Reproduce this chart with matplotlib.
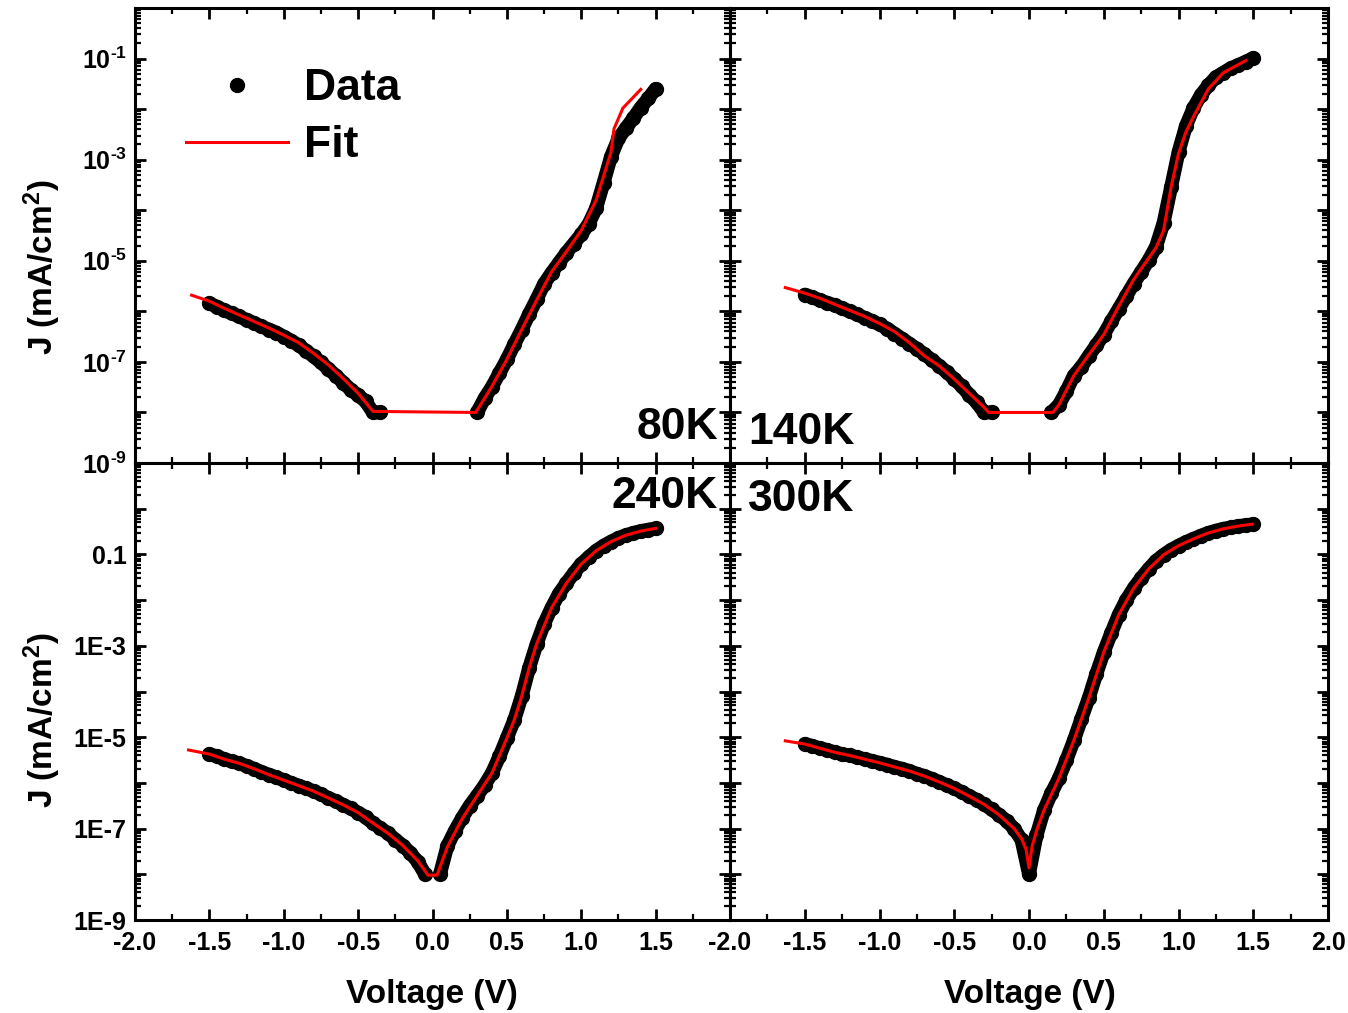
import numpy as np
import matplotlib
matplotlib.use("Agg")
import matplotlib.pyplot as plt
from matplotlib.lines import Line2D
from matplotlib.ticker import FixedLocator, LogLocator, FuncFormatter, MultipleLocator, NullFormatter

plt.rcParams['font.family'] = ['Liberation Sans', 'DejaVu Sans']
plt.rcParams['font.weight'] = 'bold'
plt.rcParams['mathtext.fontset'] = 'custom'
plt.rcParams['mathtext.rm'] = 'Liberation Sans:bold'
plt.rcParams['mathtext.bf'] = 'Liberation Sans:bold'
plt.rcParams['mathtext.it'] = 'Liberation Sans:bold:italic'
plt.rcParams['mathtext.default'] = 'bf'

# ---- measured J-V curves (log10 of J in mA/cm^2), voltage sweep -1.5 V .. 1.5 V, 0.05 V step
voltage = np.linspace(-1.5, 1.5, 61)
N = None  # no measurable current

logj_80K = [-5.84, -5.91, -5.98, -6.04, -6.10, -6.17, -6.23, -6.30, -6.36, -6.42,
            -6.50, -6.58, -6.67, -6.78, -6.89, -7.01, -7.14, -7.27, -7.41, -7.55,
            -7.66, -7.78, -8.00, -8.00, N, N, N, N, N, N,
            N, N, N, N, N, N, -8.00, -7.72, -7.49, -7.22,
            -6.95, -6.65, -6.36, -6.05, -5.76, -5.46, -5.24, -5.04, -4.84, -4.66,
            -4.48, -4.27, -3.96, -3.46, -2.94, -2.58, -2.38, -2.18, -1.97, -1.79,
            -1.60]

logj_140K = [-5.67, -5.72, -5.78, -5.83, -5.88, -5.94, -6.00, -6.06, -6.13, -6.19,
             -6.26, -6.34, -6.44, -6.54, -6.64, -6.74, -6.85, -6.96, -7.08, -7.20,
             -7.34, -7.48, -7.65, -7.80, -8.00, -8.00, N, N, N, N,
             N, N, N, -8.00, -7.85, -7.58, -7.27, -7.10, -6.88, -6.67,
             -6.46, -6.20, -5.95, -5.70, -5.45, -5.22, -4.99, -4.72, -4.25, -3.55,
             -2.85, -2.33, -1.98, -1.72, -1.53, -1.37, -1.28, -1.19, -1.13, -1.06,
             -0.99]

logj_240K = [-5.37, -5.42, -5.48, -5.53, -5.57, -5.63, -5.69, -5.76, -5.82, -5.88,
             -5.94, -6.00, -6.06, -6.12, -6.18, -6.25, -6.33, -6.40, -6.48, -6.56,
             -6.65, -6.75, -6.88, -6.99, -7.10, -7.24, -7.37, -7.53, -7.72, -8.00,
             N, -8.00, -7.38, -7.05, -6.76, -6.50, -6.28, -6.05, -5.78, -5.42,
             -5.02, -4.62, -4.10, -3.48, -2.96, -2.52, -2.17, -1.86, -1.63, -1.41,
             -1.21, -1.06, -0.92, -0.81, -0.72, -0.64, -0.58, -0.53, -0.49, -0.46,
             -0.43]

logj_300K = [-5.15, -5.19, -5.24, -5.28, -5.33, -5.37, -5.40, -5.44, -5.48, -5.52,
             -5.56, -5.60, -5.65, -5.69, -5.74, -5.80, -5.85, -5.91, -5.98, -6.05,
             -6.12, -6.20, -6.29, -6.37, -6.47, -6.58, -6.70, -6.83, -7.00, -7.25,
             -8.00, -7.15, -6.60, -6.22, -5.90, -5.50, -5.07, -4.60, -4.14, -3.62,
             -3.14, -2.72, -2.32, -2.00, -1.74, -1.52, -1.32, -1.14, -1.01, -0.90,
             -0.81, -0.73, -0.66, -0.59, -0.53, -0.48, -0.44, -0.41, -0.38, -0.36,
             -0.34]

# ---- model fits
fit_v_80K = [-1.62, -1.5, -1.4, -1.3, -1.2, -1.1, -1.0, -0.9, -0.8, -0.7, -0.6, -0.5, -0.4,
             0.29, 0.35, 0.4, 0.5, 0.6, 0.7, 0.8, 0.9, 1.0, 1.1, 1.2, 1.22, 1.28, 1.40]
fit_logj_80K = [-5.68, -5.80, -5.94, -6.07, -6.20, -6.33, -6.47, -6.62, -6.83, -7.06, -7.33, -7.62, -7.98,
                -8.00, -7.72, -7.48, -6.95, -6.36, -5.78, -5.22, -4.82, -4.40, -3.80, -2.85, -2.39, -1.98, -1.61]

fit_v_140K = [-1.63, -1.5, -1.4, -1.3, -1.2, -1.1, -1.0, -0.9, -0.8, -0.7, -0.6, -0.5, -0.4, -0.3, -0.27,
              0.16, 0.2, 0.3, 0.4, 0.5, 0.6, 0.7, 0.8, 0.85, 0.9, 0.95, 1.0, 1.05, 1.1, 1.2, 1.3, 1.45]
fit_logj_140K = [-5.53, -5.64, -5.74, -5.86, -5.98, -6.10, -6.24, -6.40, -6.62, -6.88, -7.08, -7.34, -7.62, -7.90, -8.00,
                 -8.00, -7.85, -7.27, -6.86, -6.46, -5.90, -5.37, -4.95, -4.74, -4.40, -3.55, -2.88, -2.45, -2.15, -1.60, -1.28, -1.04]

fit_v_240K = [-1.64, -1.5, -1.4, -1.3, -1.2, -1.1, -1.0, -0.9, -0.8, -0.7, -0.6, -0.5, -0.4, -0.3, -0.2, -0.1,
              -0.03, 0.03, 0.1, 0.2, 0.3, 0.4, 0.5, 0.55, 0.6, 0.65, 0.7, 0.8, 0.9, 1.0, 1.1, 1.2, 1.3, 1.4, 1.5]
fit_logj_240K = [-5.28, -5.37, -5.48, -5.57, -5.69, -5.82, -5.94, -6.06, -6.18, -6.33, -6.48, -6.65, -6.88, -7.10, -7.37, -7.70,
                 -8.02, -8.02, -7.40, -6.78, -6.28, -5.78, -5.02, -4.62, -4.10, -3.48, -2.96, -2.17, -1.63, -1.21, -0.92, -0.72, -0.58, -0.49, -0.43]

fit_v_300K = [-1.63, -1.5, -1.4, -1.3, -1.2, -1.1, -1.0, -0.9, -0.8, -0.7, -0.6, -0.5, -0.4, -0.3, -0.2, -0.1,
              -0.05, -0.02, 0.0, 0.02, 0.05, 0.1, 0.2, 0.3, 0.4, 0.5, 0.6, 0.7, 0.8, 0.9, 1.0, 1.1, 1.2, 1.3, 1.4, 1.49]
fit_logj_300K = [-5.08, -5.15, -5.24, -5.33, -5.40, -5.48, -5.56, -5.65, -5.74, -5.85, -5.98, -6.12, -6.29, -6.47, -6.70, -7.00,
                 -7.22, -7.45, -7.86, -7.40, -7.05, -6.60, -5.90, -5.07, -4.14, -3.14, -2.32, -1.74, -1.32, -1.01, -0.81, -0.66, -0.53, -0.44, -0.38, -0.34]

temperatures = ['80K', '140K', '240K', '300K']
data_sets = [logj_80K, logj_140K, logj_240K, logj_300K]
fit_sets = [(fit_v_80K, fit_logj_80K), (fit_v_140K, fit_logj_140K),
            (fit_v_240K, fit_logj_240K), (fit_v_300K, fit_logj_300K)]

x_ticks = [-2.0, -1.5, -1.0, -0.5, 0.0, 0.5, 1.0, 1.5, 2.0]

W, H = 1348, 1013
fig = plt.figure(figsize=(W / 100, H / 100), dpi=100)


def frac(x0, y0, x1, y1):
    return [x0 / W, 1 - y1 / H, (x1 - x0) / W, (y1 - y0) / H]


axes = [fig.add_axes(frac(135, 8, 730, 463)),
        fig.add_axes(frac(730, 8, 1328, 463)),
        fig.add_axes(frac(135, 463, 730, 920)),
        fig.add_axes(frac(730, 463, 1328, 920))]


def top_fmt(v, pos):
    e = int(round(np.log10(v)))
    if e % 2 == 0:
        return ''
    return r'$\mathbf{10^{\text{-}%d}}$' % (-e)


def bottom_fmt(v, pos):
    e = int(round(np.log10(v)))
    if e % 2 == 0 or e > -1:
        return ''
    return '0.1' if e == -1 else '1E%d' % e


def volt_fmt_left(v, pos):
    return '' if v > 1.9 else '%.1f' % v


def volt_fmt_right(v, pos):
    return '%.1f' % v


for i, ax in enumerate(axes):
    logj = np.array([np.nan if v is None else v for v in data_sets[i]], dtype=float)
    j = 10.0 ** logj
    ax.plot(voltage, j, '-', color='black', lw=10, solid_capstyle='round',
            solid_joinstyle='round', zorder=2)
    ax.plot(voltage, j, 'o', color='black', ms=10, zorder=2)
    fv, fl = fit_sets[i]
    ax.plot(fv, 10.0 ** np.array(fl), '-', color='#ff0000', lw=2.2, zorder=3)

    ax.set_yscale('log')
    ax.set_xlim(-2.0, 2.0)
    top_row = i < 2
    if top_row:
        ax.set_ylim(1e-9, 1e0)
        exps = range(-9, 1)
    else:
        ax.set_ylim(1e-9, 1e1)
        exps = range(-9, 2)
    ax.yaxis.set_major_locator(FixedLocator([10.0 ** e for e in exps]))
    ax.yaxis.set_minor_locator(LogLocator(base=10, subs=np.arange(2, 10), numticks=30))
    ax.yaxis.set_minor_formatter(NullFormatter())
    ax.xaxis.set_major_locator(FixedLocator(x_ticks))
    ax.xaxis.set_minor_locator(MultipleLocator(0.25))

    if i == 0:
        ax.yaxis.set_major_formatter(FuncFormatter(top_fmt))
    elif i == 2:
        ax.yaxis.set_major_formatter(FuncFormatter(bottom_fmt))
    else:
        ax.yaxis.set_major_formatter(NullFormatter())
    if top_row:
        ax.xaxis.set_major_formatter(NullFormatter())
    elif i == 2:
        ax.xaxis.set_major_formatter(FuncFormatter(volt_fmt_left))
    else:
        ax.xaxis.set_major_formatter(FuncFormatter(volt_fmt_right))

    ax.tick_params(which='both', direction='in', top=True, right=True, labelsize=18)
    ax.tick_params(which='major', length=8, width=2.0)
    ax.tick_params(which='minor', length=4, width=1.6)
    ax.tick_params(axis='x', which='major', pad=8)
    ax.tick_params(axis='y', which='major', pad=6)
    for s in ax.spines.values():
        s.set_linewidth(2.2)
    for lab in ax.get_xticklabels() + ax.get_yticklabels():
        lab.set_fontweight('bold')

# temperature tags
axes[0].text(0.98, 0.077, '80K', transform=axes[0].transAxes, ha='right', va='center',
             fontsize=32, fontweight='bold')
axes[1].text(0.030, 0.068, '140K', transform=axes[1].transAxes, ha='left', va='center',
             fontsize=32, fontweight='bold')
axes[2].text(0.98, 0.926, '240K', transform=axes[2].transAxes, ha='right', va='center',
             fontsize=32, fontweight='bold')
axes[3].text(0.030, 0.921, '300K', transform=axes[3].transAxes, ha='left', va='center',
             fontsize=32, fontweight='bold')

# legend
h_data = Line2D([], [], color='black', marker='o', ls='none', ms=10)
h_fit = Line2D([], [], color='#ff0000', lw=2.2)
axes[0].legend([h_data, h_fit], ['Data', 'Fit'], loc='upper left',
               bbox_to_anchor=(0.0857, 0.868), frameon=False,
               handlelength=2.3, handletextpad=0.35, labelspacing=0.36,
               borderaxespad=0, borderpad=0, prop={'weight': 'bold', 'size': 32})

# axis titles
for yc in (267, 720):
    fig.text(42 / W, 1 - yc / H, r'J (mA/cm$^\mathbf{2}$)', rotation=90, ha='center',
             va='center', fontsize=24, fontweight='bold')
for xc in (432, 1030):
    fig.text(xc / W, 1 - 994 / H, 'Voltage (V)', ha='center', va='center',
             fontsize=24, fontweight='bold')

fig.savefig('out.png', dpi=100)
